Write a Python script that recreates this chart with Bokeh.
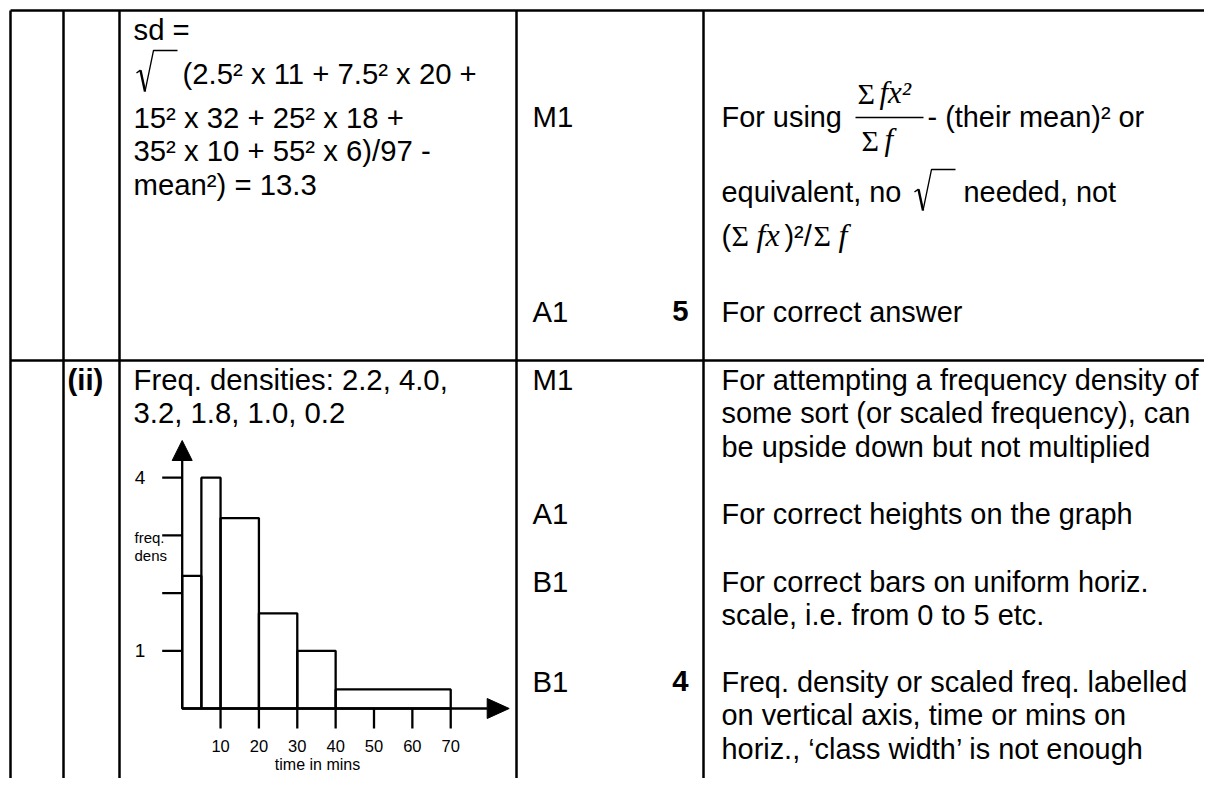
from bokeh.plotting import figure
from bokeh.models import Range1d
from bokeh.embed import file_html
from bokeh.resources import INLINE
from bokeh.core.properties import value

# ---------------- histogram data ----------------
bin_left = [0, 5, 10, 20, 30, 40]
bin_right = [5, 10, 20, 30, 40, 70]
freq_density = [2.3, 4.0, 3.3, 1.65, 1.0, 0.33]   # heights as drawn in the sketch
x_ticks = [10, 20, 30, 40, 50, 60, 70]
x_tick_labels = ["10", "20", "30", "40", "50", "60", "70"]
y_ticks = [1, 2, 3, 4]
y_label_values = [1, 4]
y_tick_labels = ["1", "4"]
x_axis_title = "time in mins"
y_axis_title = ["freq.", "dens"]

# ---------------- table text ----------------
sd_lines = ["sd =", "(2.5² x 11 + 7.5² x 20 +", "15² x 32 + 25² x 18 +",
            "35² x 10 + 55² x 6)/97 -", "mean²) = 13.3"]
part_label = "(ii)"
fd_lines = ["Freq. densities: 2.2, 4.0,", "3.2, 1.8, 1.0, 0.2"]
marks = ["M1", "A1", "M1", "A1", "B1", "B1"]
totals = ["5", "4"]
row1_comments = ["For using", "- (their mean)² or", "equivalent, no", "needed, not",
                 "For correct answer"]
row2_comments = ["For attempting a frequency density of",
                 "some sort (or scaled frequency), can",
                 "be upside down but not multiplied",
                 "For correct heights on the graph",
                 "For correct bars on uniform horiz.",
                 "scale, i.e. from 0 to 5 etc.",
                 "Freq. density or scaled freq. labelled",
                 "on vertical axis, time or mins on",
                 "horiz., \u2018class width\u2019 is not enough"]

SANS = value("Liberation Sans")
SERIF = value("Liberation Serif")
BODY = 29.3     # working / marks column
COMMENT = 28.9  # comments column (must fit inside the frame)

W, H = 1204, 778
p = figure(width=W, height=H, x_range=Range1d(0, W), y_range=Range1d(H, 0),
           output_backend="svg", toolbar_location=None, tools="", min_border=0,
           x_axis_type=None, y_axis_type=None)
p.outline_line_color = None
p.background_fill_color = "white"
p.border_fill_color = "white"
p.grid.grid_line_color = None


def txt(xs, ys, texts, size=BODY, font=SANS, style="normal", align="left", **kw):
    """ys are alphabetic baselines; drawn with a 'middle' baseline."""
    mid = [y - 0.31 * size for y in ys]
    p.text(x=xs, y=mid, text=texts, text_font=font, text_font_size=f"{size}px",
           text_font_style=style, text_align=align, text_baseline="middle",
           text_color="black", **kw)


def radical(x, top, bottom, bar_end):
    h = bottom - top
    p.line(x=[x, x + 4], y=[top + 0.55 * h, top + 0.48 * h], line_color="black", line_width=1.4)
    p.line(x=[x + 4, x + 8.5], y=[top + 0.48 * h, bottom], line_color="black", line_width=2.4)
    p.line(x=[x + 8.5, x + 17, bar_end], y=[bottom, top, top], line_color="black", line_width=1.3)


# ---------------- table grid ----------------
LW = 2.5
col_x = [10, 63, 119, 516, 703]
p.segment(x0=col_x, y0=[10] * 5, x1=col_x, y1=[H] * 5, line_color="black", line_width=LW)
p.segment(x0=[10, 10], y0=[10, 360], x1=[W, W], y1=[10, 360],
          line_color="black", line_width=LW)

# ---------------- row 1, working column ----------------
txt([133], [38], [sd_lines[0]])
radical(136, 50, 91, 177)
txt([182], [82], [sd_lines[1]])
txt([133, 133, 133], [126, 159, 193], sd_lines[2:])

# ---------------- marks column ----------------
txt([532] * 6, [125, 320, 388, 522, 590, 690], marks)
txt([688, 688], [320, 690], totals, style="bold", align="right")

# ---------------- row 1 comments ----------------
txt([721], [125], [row1_comments[0]], size=COMMENT)
# fraction  sum fx^2 / sum f
txt([857], [102], ["\u03a3"], size=30, font=SERIF)
txt([879], [102], ["fx\u00b2"], size=31, font=SERIF, style="italic")
p.segment(x0=[855], y0=[117], x1=[923], y1=[117], line_color="black", line_width=1.3)
txt([861], [149], ["\u03a3"], size=30, font=SERIF)
txt([884], [149], ["f"], size=31, font=SERIF, style="italic")
txt([927], [125], [row1_comments[1]], size=COMMENT)
txt([721], [200], [row1_comments[2]], size=COMMENT)
radical(914, 169, 210, 955)
txt([963], [200], [row1_comments[3]], size=COMMENT)
# (sum fx)^2 / sum f
txt([721], [244], ["("], size=COMMENT)
txt([731], [244], ["\u03a3"], size=30, font=SERIF)
txt([756], [244], ["fx"], size=32, font=SERIF, style="italic")
txt([784], [244], [")\u00b2/"], size=COMMENT)
txt([813], [244], ["\u03a3"], size=30, font=SERIF)
txt([838], [244], ["f"], size=32, font=SERIF, style="italic")
txt([721], [320], [row1_comments[4]], size=COMMENT)

# ---------------- row 2 ----------------
txt([67], [388], [part_label], style="bold")
txt([133, 133], [388, 421.5], fd_lines)
row2_y = [388, 421.5, 455, 522, 590, 623.5, 690, 723.5, 757]
txt([721] * len(row2_comments), row2_y, row2_comments, size=COMMENT)

# ---------------- histogram (own scales) ----------------
HX0, HSX = 181.7, 3.836     # pixel of 0 min, pixels per minute
HY0, HSY = 708.0, 57.7      # pixel of density 0, pixels per unit
p.extra_x_ranges = {"hx": Range1d((0 - HX0) / HSX, (W - HX0) / HSX)}
p.extra_y_ranges = {"hy": Range1d((HY0 - H) / HSY, HY0 / HSY)}
hk = dict(x_range_name="hx", y_range_name="hy")
HLW = 2.3

p.quad(left=bin_left, right=bin_right, bottom=[0] * len(bin_left), top=freq_density,
       fill_color=None, line_color="black", line_width=HLW, **hk)

x_end = 305.0 / HSX
y_end = 248.0 / HSY
p.segment(x0=[0, 0], y0=[0, 0], x1=[x_end, 0], y1=[0, y_end],
          line_color="black", line_width=HLW, **hk)
tdx, tdy = 20.0 / HSX, 20.0 / HSY
p.segment(x0=x_ticks, y0=[0] * len(x_ticks), x1=x_ticks, y1=[-tdy] * len(x_ticks),
          line_color="black", line_width=HLW, **hk)
p.segment(x0=[-tdx] * len(y_ticks), y0=y_ticks, x1=[0] * len(y_ticks), y1=y_ticks,
          line_color="black", line_width=HLW, **hk)
# arrow heads
p.patch(x=[x_end, x_end, x_end + 22.0 / HSX], y=[10.0 / HSY, -10.0 / HSY, 0],
        fill_color="black", line_color="black", line_width=1, **hk)
p.patch(x=[-10.0 / HSX, 10.0 / HSX, 0], y=[y_end, y_end, y_end + 20.0 / HSY],
        fill_color="black", line_color="black", line_width=1, **hk)

p.text(x=x_ticks, y=[-37.0 / HSY] * len(x_ticks), text=x_tick_labels, text_font=SANS,
       text_font_size="16.5px", text_align="center", text_baseline="middle", **hk)
p.text(x=[-37.0 / HSX] * len(y_label_values), y=y_label_values, text=y_tick_labels,
       text_font=SANS, text_font_size="19px", text_align="right", text_baseline="middle", **hk)
p.text(x=[317], y=[764], text=[x_axis_title], text_font=SANS, text_font_size="16px",
       text_align="center", text_baseline="middle")
p.text(x=[134, 134], y=[537, 555], text=y_axis_title, text_font=SANS, text_font_size="15px",
       text_align="left", text_baseline="middle")

open("out.html", "w").write(file_html(p, INLINE))
